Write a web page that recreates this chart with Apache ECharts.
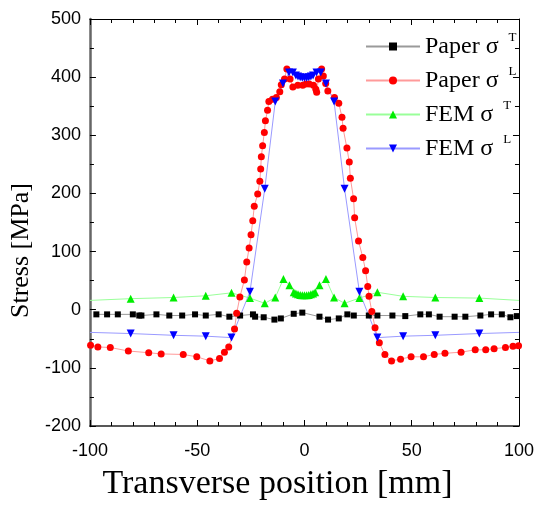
<!DOCTYPE html>
<html>
<head>
<meta charset="utf-8">
<script src="https://cdn.jsdelivr.net/npm/echarts@6/dist/echarts.min.js"></script>
<style>
  html, body { margin: 0; padding: 0; background: #fff; }
  #chart { width: 537px; height: 506px; }
</style>
</head>
<body>
<div id="chart"></div>
<script>
// Transverse stress profiles: [position mm, stress MPa]
const paperT = [
  [-97,-8],[-92,-8],[-87,-8],[-80,-8],[-77,-10],[-76,-10],[-69,-8],[-63,-10],[-57,-10],[-51,-8],
  [-46,-10],[-40,-8],[-35,-12],[-30,-10],[-24,-8],[-23,-12],[-19,-13],[-14,-17],[-11,-15],[-5,-7],
  [-1,-5],[7,-12],[11,-17],[16,-15],[20,-8],[23,-10],[30,-10],[34,-10],[41,-10],[47,-11],
  [54,-8],[58,-8],[63,-12],[70,-12],[75,-12],[82,-10],[87,-8],[92,-8],[96,-13],[99,-11]
];

const paperL = [
  [-99.7,-61],[-96.3,-64],[-90.5,-65],[-82.1,-71],[-72.6,-74],[-66.8,-76],[-56.5,-77],[-50.2,-81],
  [-44.1,-88],[-39.6,-84],[-37.3,-73],[-35.3,-64],[-32.6,-33],[-31.6,-6],[-30.1,22],[-28,51],
  [-26.9,82],[-25.8,106],[-24.9,129],[-24.1,153],[-23.4,178],[-21.8,199],[-20.8,221],[-20.4,242],
  [-20.1,263],[-19.5,282],[-18.7,305],[-18.2,325],[-17.2,343],[-16.6,358],[-14.9,362],[-13.1,365],
  [-11.5,375],[-10.8,387],[-9.3,397],[-8.2,414],[-6.7,397],[-5.4,383],[-3.1,386],[-0.8,386],
  [0.7,388],[2.2,388],[4.2,386],[5.3,379],[5.7,374],[6.5,397],[8,414],[8.8,402],[9.9,389],
  [10.9,376],[14,365],[16,355],[17.5,331],[18,312],[19.8,278],[20.9,254],[21.4,226],[22.9,191],
  [23.4,158],[25.2,118],[27.2,90],[28.5,67],[29.5,40],[30.1,23],[31.4,-3],[32.9,-31],[34.9,-57],
  [37.5,-77],[40.6,-88],[44.8,-85],[49.7,-81],[55.5,-81],[60.5,-77],[65.5,-75],[73,-73],
  [79.6,-69],[84.5,-69],[88.4,-67],[93.7,-65],[97.2,-63],[99.8,-62]
];

const femT = [
  [-100,16],[-81,19],[-61,21],[-46,24],[-34,29],[-25.4,20],[-18.5,11],[-13.6,21],[-9.8,53],[-7,42],
  [-5,30],[-4,28],[-3,26.5],[-2,25.5],[-1,25],[0,25],[1,25],[2,25.5],[3,26.5],[4,28],[5,30],
  [7,42],[10,53],[13.8,21],[18.7,11],[25.6,20],[34,30],[46,23],[61,21],[81.5,20],[100,16]
];

const femL = [
  [-100,-39],[-81,-41],[-61,-44],[-46,-45.5],[-34,-48],[-25.4,31],[-18.5,208],[-13.6,358],[-10,389],
  [-7.2,408],[-5.4,408],[-4,403],[-3,401],[-2,400],[-1,399],[0,399],[1,399],[2,400],[3,401],[4,403],
  [5.6,408],[7.6,408],[10,389],[13.8,358],[18.7,208],[25.6,31],[34,-48],[46,-45.5],[61,-44],
  [81.5,-41],[100,-39]
];

const seriesNames = ['Paper σT', 'Paper σL', 'FEM σT', 'FEM σL'];
const legendLabels = {
  'Paper σT': ['Paper σ', 'T'],
  'Paper σL': ['Paper σ', 'L'],
  'FEM σT': ['FEM σ', 'T'],
  'FEM σL': ['FEM σ', 'L']
};

// FEM curves run to the plot edges without a marker at the end points
function edgeless(points) {
  return points.map(function (p, i) {
    if (i === 0 || i === points.length - 1) return { value: p, symbol: 'none' };
    return p;
  });
}

const chart = echarts.init(document.getElementById('chart'), null, { renderer: 'canvas' });

const serif = 'Liberation Serif, Times New Roman, serif';
const sans = 'Liberation Sans, Arial, sans-serif';

function xAxisCfg(pos, main) {
  return {
    type: 'value', position: pos, min: -100, max: 100, interval: 50,
    axisLine: { show: true, onZero: false, lineStyle: { color: main ? '#222' : '#000', width: main ? 1.5 : 1 } },
    axisTick: { show: true, inside: true, length: 6, lineStyle: { color: '#000', width: 1 } },
    minorTick: { show: true, splitNumber: 5, length: 4, lineStyle: { color: '#000', width: 1 } },
    splitLine: { show: false },
    axisLabel: { show: main, fontSize: 18, color: '#000', fontFamily: sans, margin: 16 },
    name: main ? 'Transverse position [mm]' : '',
    nameLocation: 'middle', nameGap: 41,
    nameTextStyle: { fontSize: 34, fontFamily: serif, color: '#000', padding: [0, 54, 0, 0] }
  };
}

function yAxisCfg(pos, main) {
  return {
    type: 'value', position: pos, min: -200, max: 500, interval: 100,
    axisLine: { show: true, onZero: false, lineStyle: { color: main ? '#666' : '#000', width: main ? 2.5 : 1 } },
    axisTick: { show: true, inside: true, length: 6, lineStyle: { color: '#000', width: 1 } },
    minorTick: { show: true, splitNumber: 2, length: 4, lineStyle: { color: '#000', width: 1 } },
    splitLine: { show: false },
    axisLabel: { show: main, fontSize: 18, color: '#000', fontFamily: sans, margin: 9 },
    name: main ? 'Stress [MPa]' : '',
    nameLocation: 'middle', nameGap: 46,
    nameTextStyle: { fontSize: 26, fontFamily: serif, color: '#000', padding: [0, 56, 0, 0] }
  };
}

chart.setOption({
  animation: false,
  backgroundColor: '#fff',
  grid: { left: 86, right: 16, top: 19, bottom: 76, containLabel: false },
  xAxis: [xAxisCfg('bottom', true), xAxisCfg('top', false)],
  yAxis: [yAxisCfg('left', true), yAxisCfg('right', false)],
  legend: {
    data: seriesNames,
    orient: 'vertical',
    left: 360, top: 26,
    itemWidth: 54, itemHeight: 10, itemGap: 3,
    formatter: function (name) {
      const l = legendLabels[name];
      return '{a|' + l[0] + '}{s|' + l[1] + '}';
    },
    textStyle: {
      rich: {
        a: { fontSize: 24, fontFamily: serif, color: '#000', lineHeight: 28 },
        s: { fontSize: 13, fontFamily: serif, color: '#000', padding: [0, 0, 18, 10], lineHeight: 13 }
      }
    }
  },
  series: [
    {
      name: 'Paper σT', type: 'line', data: paperT,
      symbol: 'rect', symbolSize: 6,
      itemStyle: { color: '#000' },
      lineStyle: { color: '#9a9a9a', width: 1 }
    },
    {
      name: 'Paper σL', type: 'line', data: paperL,
      symbol: 'circle', symbolSize: 7,
      itemStyle: { color: '#ff0000' },
      lineStyle: { color: '#ff9a9a', width: 1 }
    },
    {
      name: 'FEM σT', type: 'line', data: edgeless(femT),
      symbol: 'triangle', symbolSize: 8,
      itemStyle: { color: '#00ee00' },
      lineStyle: { color: '#99ff99', width: 1 }
    },
    {
      name: 'FEM σL', type: 'line', data: edgeless(femL),
      symbol: 'triangle', symbolRotate: 180, symbolSize: 8,
      itemStyle: { color: '#0000ff' },
      lineStyle: { color: '#9a9aff', width: 1 }
    }
  ]
});
</script>
</body>
</html>
